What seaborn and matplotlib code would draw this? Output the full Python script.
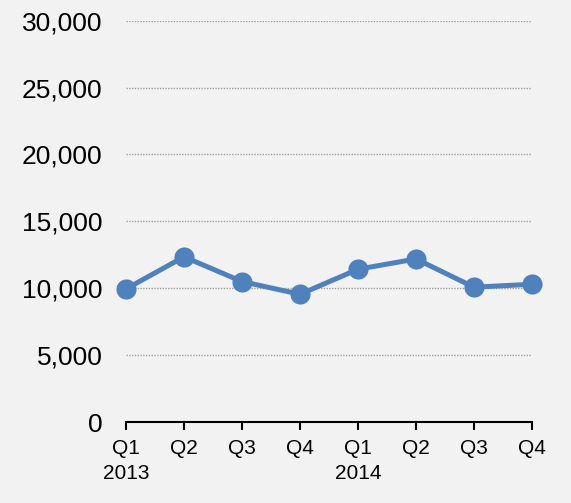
import pandas as pd
import matplotlib
matplotlib.use("Agg")
import matplotlib.pyplot as plt
import seaborn as sns
from matplotlib.ticker import FuncFormatter

# Dados
quarters = ["Q1", "Q2", "Q3", "Q4", "Q1", "Q2", "Q3", "Q4"]
years = ["2013", "", "", "", "2014", "", "", ""]
values = [9950, 12350, 10500, 9550, 11420, 12190, 10080, 10300]
y_ticks = [0, 5000, 10000, 15000, 20000, 25000, 30000]

LINE_COLOR = "#4F81BD"
BG_COLOR = "#F2F2F2"

sns.set_style("white")
plt.rcParams['font.family'] = ['Liberation Sans', 'DejaVu Sans']

df = pd.DataFrame({"pos": range(len(values)), "valor": values})

fig = plt.figure(figsize=(5.71, 5.03), dpi=100, facecolor=BG_COLOR)
ax = fig.add_axes([0.2207, 0.161, 0.711, 0.7978])
ax.set_facecolor(BG_COLOR)

sns.lineplot(data=df, x="pos", y="valor", ax=ax, color=LINE_COLOR,
             linewidth=3.6, marker="o", markersize=14.5,
             markeredgewidth=0, zorder=3, clip_on=False)

ax.set_xlim(0, len(values) - 1)
ax.set_ylim(0, 30000)
ax.set_yticks(y_ticks)
ax.yaxis.set_major_formatter(FuncFormatter(lambda v, p: f"{int(v):,}"))
ax.set_xticks(range(len(values)))
ax.set_xticklabels([f"{q}\n{y}" if y else q for q, y in zip(quarters, years)],
                   linespacing=1.45, va="top")

ax.grid(axis='y', linestyle=(0, (1, 1)), color="#A0A0A0", linewidth=1.0, zorder=0)
ax.grid(axis='x', visible=False)
ax.set_axisbelow(True)

for side in ["top", "right", "left"]:
    ax.spines[side].set_visible(False)
ax.spines["bottom"].set_color("black")
ax.spines["bottom"].set_linewidth(1.5)

ax.tick_params(axis='y', length=0, pad=17, labelsize=19, labelcolor="black")
ax.tick_params(axis='x', direction='out', length=6, width=1.5, color="black",
               pad=6, labelsize=15, labelcolor="black", bottom=True)

ax.set_xlabel("")
ax.set_ylabel("")

fig.savefig("out.png", dpi=100, facecolor=BG_COLOR)
